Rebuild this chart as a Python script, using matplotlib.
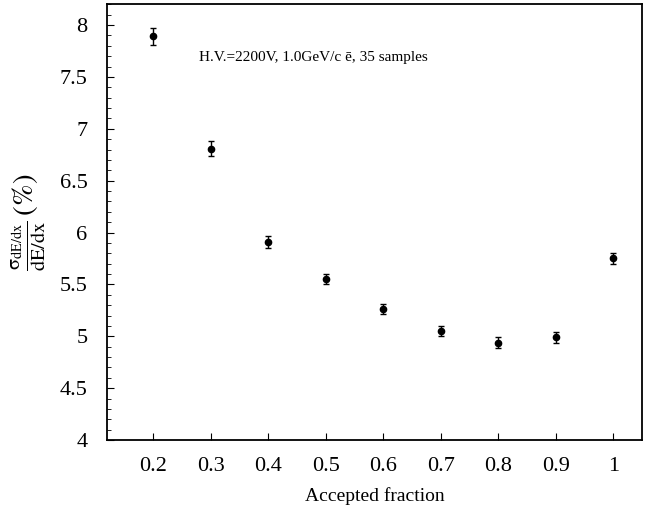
import numpy as np
import matplotlib
matplotlib.use("Agg")
import matplotlib.pyplot as plt
from matplotlib.ticker import MultipleLocator

plt.rcParams['font.family'] = ['Liberation Serif', 'DejaVu Serif']
plt.rcParams['mathtext.fontset'] = 'stix'

# accepted fraction vs relative dE/dx resolution
frac = [0.2, 0.3, 0.4, 0.5, 0.6, 0.7, 0.8, 0.9, 1.0]
sigma = [7.89, 6.81, 5.91, 5.55, 5.26, 5.05, 4.94, 4.99, 5.75]
sigma_err = [0.08, 0.07, 0.06, 0.05, 0.05, 0.05, 0.05, 0.05, 0.05]
xticks = [0.2, 0.3, 0.4, 0.5, 0.6, 0.7, 0.8, 0.9, 1]
xticklabels = ['0.2', '0.3', '0.4', '0.5', '0.6', '0.7', '0.8', '0.9', '1']
yticks = [4, 4.5, 5, 5.5, 6, 6.5, 7, 7.5, 8]
yticklabels = ['4', '4.5', '5', '5.5', '6', '6.5', '7', '7.5', '8']

fig = plt.figure(figsize=(6.56, 5.15), dpi=100)
ax = fig.add_axes([0.163, 0.1456, 0.816, 0.846])

ax.errorbar(frac, sigma, yerr=sigma_err, fmt='o', color='black', ms=4.5,
            elinewidth=1, capsize=2, capthick=1)

ax.set_xlim(0.12, 1.05)
ax.set_ylim(4, 8.2)
ax.set_xticks(xticks)
ax.set_xticklabels(xticklabels)
ax.yaxis.set_minor_locator(MultipleLocator(0.1))
ax.set_yticks(yticks)
ax.set_yticklabels(yticklabels)
ax.tick_params(direction='in', which='both', labelsize=16, top=False, right=False)
ax.tick_params(axis='y', which='major', length=5, pad=14)
ax.tick_params(axis='x', which='major', length=5, pad=12)
ax.tick_params(which='minor', length=3)
for s in ax.spines.values():
    s.set_linewidth(1.3)

ax.set_xlabel('Accepted fraction', fontsize=14, labelpad=8)
ax.set_ylabel(r'$\frac{\mathrm{σ}_{\mathrm{dE/dx}}}{\mathrm{dE/dx}}\,\mathrm{(\%)}$', fontsize=21, labelpad=8)

ax.text(0.28, 7.69, 'H.V.=2200V, 1.0GeV/c ē, 35 samples', fontsize=11, va='center')

fig.savefig('out.png', dpi=100)
